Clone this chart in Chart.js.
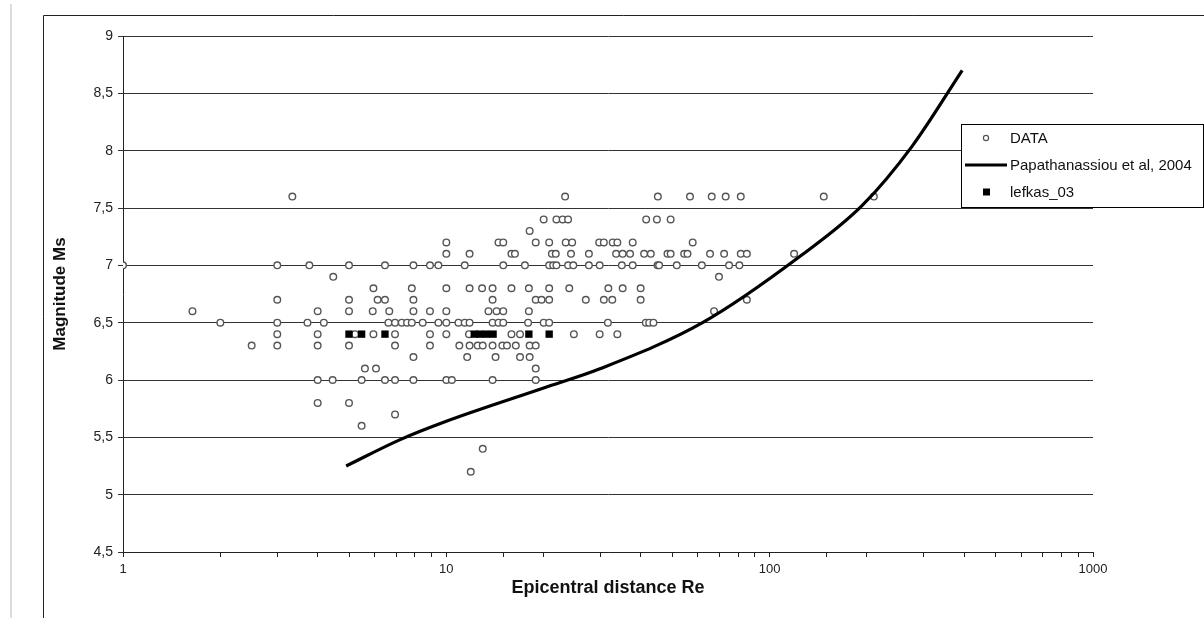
<!DOCTYPE html>
<html>
<head>
<meta charset="utf-8">
<script src="https://cdn.jsdelivr.net/npm/chart.js@4.4.0/dist/chart.umd.min.js"></script>
<style>
html, body { margin: 0; padding: 0; background: #fff; }
</style>
</head>
<body>
<canvas id="magnitudeChart" width="1204" height="618"></canvas>
<script>
// DATA points, epicentral distance (km) and magnitude, one line per magnitude row
const dataRe = [
    3.34, 23.3, 45.1, 56.7, 66.2, 73.1, 81.4, 147, 210,
    20.0, 21.9, 22.9, 23.8, 41.5, 44.8, 49.4,
    18.1,
    10.0, 14.5, 15.0, 18.9, 20.8, 23.4, 24.5, 29.7, 30.7, 32.7, 33.8, 37.7, 57.8,
    10.0, 11.8, 15.9, 16.3, 21.2, 21.8, 24.3, 27.6, 33.5, 35.1, 37.0, 40.9, 42.9, 48.3, 49.4, 54.4, 55.7, 65.4, 72.3, 81.4, 85.0, 119,
    1.0, 3.0, 3.77, 5.0, 6.46, 7.91, 8.9, 9.45, 11.4, 15.0, 17.5, 20.8, 21.4, 21.9, 23.8, 24.7, 27.6, 29.8, 34.9, 37.7, 45.0, 45.5, 51.6, 61.7, 74.9, 80.6,
    4.47, 69.7,
    5.95, 7.82, 10.0, 11.8, 12.9, 13.9, 15.9, 18.0, 20.8, 24.0, 31.7, 35.1, 39.9,
    3.0, 5.0, 6.13, 6.46, 7.91, 13.9, 18.9, 19.7, 20.8, 27.0, 30.7, 32.6, 39.9, 85.0,
    1.64, 4.0, 5.0, 5.92, 6.66, 7.91, 8.9, 10.0, 13.5, 14.3, 15.0, 18.0, 67.3,
    2.0, 3.0, 3.72, 4.18, 6.62, 6.94, 7.28, 7.56, 7.82, 8.45, 9.45, 10.0, 10.9, 11.4, 11.8, 13.9, 14.5, 15.0, 17.9, 20.0, 20.8, 31.6, 41.4, 42.4, 43.7,
    3.0, 4.0, 5.22, 5.95, 6.94, 8.9, 10.0, 11.75, 15.9, 16.9, 24.8, 29.8, 33.8,
    2.5, 3.0, 4.0, 5.0, 6.94, 8.9, 10.97, 11.8, 12.5, 12.96, 13.9, 14.9, 15.4, 16.4, 18.1, 18.9,
    7.91, 11.6, 14.2, 16.9, 18.1,
    5.6, 6.06, 18.9,
    4.0, 4.45, 5.47, 6.46, 6.94, 7.91, 10.0, 10.4, 13.9, 18.9,
    4.0, 5.0,
    6.94,
    5.47,
    12.96,
    11.9
]
const dataMs = [
    7.6, 7.6, 7.6, 7.6, 7.6, 7.6, 7.6, 7.6, 7.6,
    7.4, 7.4, 7.4, 7.4, 7.4, 7.4, 7.4,
    7.3,
    7.2, 7.2, 7.2, 7.2, 7.2, 7.2, 7.2, 7.2, 7.2, 7.2, 7.2, 7.2, 7.2,
    7.1, 7.1, 7.1, 7.1, 7.1, 7.1, 7.1, 7.1, 7.1, 7.1, 7.1, 7.1, 7.1, 7.1, 7.1, 7.1, 7.1, 7.1, 7.1, 7.1, 7.1, 7.1,
    7.0, 7.0, 7.0, 7.0, 7.0, 7.0, 7.0, 7.0, 7.0, 7.0, 7.0, 7.0, 7.0, 7.0, 7.0, 7.0, 7.0, 7.0, 7.0, 7.0, 7.0, 7.0, 7.0, 7.0, 7.0, 7.0,
    6.9, 6.9,
    6.8, 6.8, 6.8, 6.8, 6.8, 6.8, 6.8, 6.8, 6.8, 6.8, 6.8, 6.8, 6.8,
    6.7, 6.7, 6.7, 6.7, 6.7, 6.7, 6.7, 6.7, 6.7, 6.7, 6.7, 6.7, 6.7, 6.7,
    6.6, 6.6, 6.6, 6.6, 6.6, 6.6, 6.6, 6.6, 6.6, 6.6, 6.6, 6.6, 6.6,
    6.5, 6.5, 6.5, 6.5, 6.5, 6.5, 6.5, 6.5, 6.5, 6.5, 6.5, 6.5, 6.5, 6.5, 6.5, 6.5, 6.5, 6.5, 6.5, 6.5, 6.5, 6.5, 6.5, 6.5, 6.5,
    6.4, 6.4, 6.4, 6.4, 6.4, 6.4, 6.4, 6.4, 6.4, 6.4, 6.4, 6.4, 6.4,
    6.3, 6.3, 6.3, 6.3, 6.3, 6.3, 6.3, 6.3, 6.3, 6.3, 6.3, 6.3, 6.3, 6.3, 6.3, 6.3,
    6.2, 6.2, 6.2, 6.2, 6.2,
    6.1, 6.1, 6.1,
    6.0, 6.0, 6.0, 6.0, 6.0, 6.0, 6.0, 6.0, 6.0, 6.0,
    5.8, 5.8,
    5.7,
    5.6,
    5.4,
    5.2
]

// Papathanassiou et al, 2004 bound
const curveRe = [4.9, 7.2, 10, 20, 30, 62, 123, 193, 276, 394]
const curveMs = [5.25, 5.48, 5.64, 5.93, 6.10, 6.50, 7.07, 7.52, 8.04, 8.7]

// lefkas_03
const lefkasRe = [5.0, 5.47, 6.46, 12.2, 12.7, 13.3, 13.95, 18.0, 20.8]
const lefkasMs = [6.4, 6.4, 6.4, 6.4, 6.4, 6.4, 6.4, 6.4, 6.4]

const xTickLabels = [1, 10, 100, 1000]
const legendLabels = ['DATA', 'Papathanassiou et al, 2004', 'lefkas_03']

const toPoints = (xs, ys) => xs.map((x, i) => ({ x: x, y: ys[i] }))
const fontFamily = '"Liberation Sans", Arial, sans-serif'

const framePlugin = {
    id: 'frame',
    beforeDraw (chart) {
        const ctx = chart.ctx
        ctx.save()
        ctx.fillStyle = '#fff'
        ctx.fillRect(0, 0, chart.width, chart.height)
        ctx.strokeStyle = '#dcdcdc'
        ctx.lineWidth = 2
        ctx.beginPath()
        ctx.moveTo(11, 4)
        ctx.lineTo(11, chart.height)
        ctx.stroke()
        ctx.strokeStyle = '#222'
        ctx.lineWidth = 1
        ctx.beginPath()
        ctx.moveTo(43.5, chart.height)
        ctx.lineTo(43.5, 15.5)
        ctx.lineTo(chart.width, 15.5)
        ctx.stroke()
        ctx.restore()
    }
}

const legendBoxPlugin = {
    id: 'legendBox',
    afterDraw (chart) {
        const ctx = chart.ctx
        const left = 961.5, top = 124.5, width = 242, height = 83
        ctx.save()
        ctx.fillStyle = '#fff'
        ctx.fillRect(left, top, width, height)
        ctx.strokeStyle = '#000'
        ctx.lineWidth = 1
        ctx.strokeRect(left, top, width, height)
        ctx.font = '15px ' + fontFamily
        ctx.textBaseline = 'middle'
        legendLabels.forEach(function (label, i) {
            const y = 138 + i * 27
            if (i === 0) {
                ctx.beginPath()
                ctx.arc(986, y, 2.6, 0, Math.PI * 2)
                ctx.strokeStyle = '#555'
                ctx.lineWidth = 1.2
                ctx.stroke()
            } else if (i === 1) {
                ctx.beginPath()
                ctx.moveTo(965, y)
                ctx.lineTo(1007, y)
                ctx.strokeStyle = '#000'
                ctx.lineWidth = 3
                ctx.stroke()
            } else {
                ctx.fillStyle = '#000'
                ctx.fillRect(983, y - 3.5, 7, 7)
            }
            ctx.fillStyle = '#111'
            ctx.fillText(label, 1010, y + 1)
        })
        ctx.restore()
    }
}

new Chart(document.getElementById('magnitudeChart'), {
    type: 'scatter',
    data: {
        datasets: [
            {
                type: 'line',
                label: legendLabels[1],
                data: toPoints(curveRe, curveMs),
                borderColor: '#000',
                borderWidth: 3.2,
                pointRadius: 0,
                fill: false,
                cubicInterpolationMode: 'monotone',
                order: 1,
            }, {
                label: legendLabels[2],
                data: toPoints(lefkasRe, lefkasMs),
                pointStyle: 'rect',
                pointRadius: 5.2,
                backgroundColor: '#000',
                borderColor: '#000',
                borderWidth: 0,
                order: 2,
            }, {
                label: legendLabels[0],
                data: toPoints(dataRe, dataMs),
                pointStyle: 'circle',
                pointRadius: 3.3,
                backgroundColor: '#fff',
                borderColor: '#555',
                borderWidth: 1.4,
                order: 3,
            }],
    },
    options: {
        responsive: false,
        animation: false,
        layout: {
            padding: { left: 0, right: 111, top: 36, bottom: 0 }
        },
        plugins: {
            legend: { display: false },
            tooltip: { enabled: false },
        },
        scales: {
            x: {
                type: 'logarithmic',
                min: 1,
                max: 1000,
                afterFit: function (scale) { scale.height = 66 },
                border: { color: '#222', width: 1 },
                grid: { drawOnChartArea: false, tickLength: 5, color: '#222' },
                ticks: {
                    autoSkip: false,
                    maxRotation: 0,
                    padding: 5,
                    color: '#222',
                    font: { family: fontFamily, size: 13 },
                    callback: function (value) {
                        return xTickLabels.includes(value) ? String(value) : ''
                    },
                },
                title: {
                    display: true,
                    text: 'Epicentral distance Re',
                    color: '#111',
                    font: { family: fontFamily, size: 18, weight: 'bold' },
                    padding: { top: 0, bottom: 19 },
                },
            },
            y: {
                min: 4.5,
                max: 9,
                afterFit: function (scale) { scale.width = 123 },
                border: { color: '#222', width: 1 },
                grid: { color: '#333', lineWidth: 1, tickLength: 5 },
                ticks: {
                    stepSize: 0.5,
                    padding: 5,
                    color: '#222',
                    font: { family: fontFamily, size: 14 },
                    callback: function (value) {
                        return String(value).replace('.', ',')
                    },
                },
                title: {
                    display: true,
                    text: 'Magnitude Ms',
                    color: '#111',
                    font: { family: fontFamily, size: 17, weight: 'bold' },
                    padding: { top: 50, bottom: 0 },
                },
            },
        },
    },
    plugins: [framePlugin, legendBoxPlugin],
})
</script>
</body>
</html>
